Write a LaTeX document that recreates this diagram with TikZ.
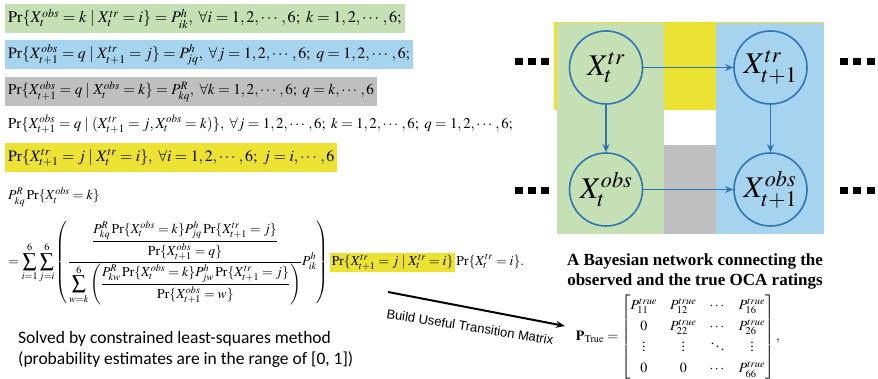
\documentclass[tikz,border=0pt]{standalone}
\usepackage{amsmath}
\usepackage{mathptmx}
\usepackage[no-math]{fontspec}
\setmainfont{Liberation Serif}
\newfontfamily\carlitofont{Carlito}
\newfontfamily\arialfont{Liberation Sans}
\usetikzlibrary{arrows.meta}

\definecolor{bngreen}{RGB}{197,224,180}
\definecolor{bnblue}{RGB}{166,211,238}
\definecolor{bngray}{RGB}{191,191,191}
\definecolor{bnyellow}{RGB}{236,226,52}
\definecolor{nodeblue}{RGB}{46,117,182}

\tikzset{
  eqbox/.style={anchor=west, inner xsep=3pt, inner ysep=0pt, minimum height=29pt},
  rv/.style={circle, draw=nodeblue, line width=1.6pt, minimum size=73pt, inner sep=0pt,
    font=\fontsize{30}{30}\selectfont},
  edge/.style={draw=nodeblue, line width=1.4pt, -{Stealth[length=8pt,width=7pt]}},
  dotsq/.style={fill=black},
}

\begin{document}
\begin{tikzpicture}[x=1pt,y=-1pt]
\useasboundingbox[fill=white] (0,0) rectangle (878,379);

% --- conditional probabilities ---
\node[eqbox, fill=bngreen, font=\fontsize{16.2}{19}\selectfont] (e1) at (5,18.5)
  {$\Pr\{X_t^{obs}=k\mid X_t^{tr}=i\}=P_{ik}^{h},\ \forall i=1,2,\cdots,6;\ k=1,2,\cdots,6;$};
\node[eqbox, fill=bnblue, font=\fontsize{15.8}{18}\selectfont] (e2) at (5,55)
  {$\Pr\{X_{t+1}^{obs}=q\mid X_{t+1}^{tr}=j\}=P_{jq}^{h},\ \forall j=1,2,\cdots,6;\ q=1,2,\cdots,6;$};
\node[eqbox, fill=bngray, font=\fontsize{15.1}{18}\selectfont] (e3) at (5,91.5)
  {$\Pr\{X_{t+1}^{obs}=q\mid X_t^{obs}=k\}=P_{kq}^{R},\ \forall k=1,2,\cdots,6;\ q=k,\cdots,6$};
\node[eqbox, font=\fontsize{14.9}{18}\selectfont] (e4) at (5,124.5)
  {$\Pr\{X_{t+1}^{obs}=q\mid (X_{t+1}^{tr}=j,X_t^{obs}=k)\},\ \forall j=1,2,\cdots,6;\ k=1,2,\cdots,6;\ q=1,2,\cdots,6;$};
\node[eqbox, fill=bnyellow, font=\fontsize{15.8}{18}\selectfont] (e5) at (5,158)
  {$\Pr\{X_{t+1}^{tr}=j\mid X_t^{tr}=i\},\ \forall i=1,2,\cdots,6;\ j=i,\cdots,6$};

% --- the estimation formula ---
\node[anchor=west, inner sep=0pt, font=\fontsize{13.7}{16}\selectfont] (lhs) at (8,197)
  {$P_{kq}^{R}\Pr\{X_t^{obs}=k\}$};
\node[anchor=west, inner sep=0pt, font=\fontsize{13.7}{16}\selectfont] (rhs) at (8,263)
  {$\displaystyle =\sum_{i=1}^{6}\sum_{j=i}^{6}\left(\frac{\dfrac{P_{kq}^{R}\Pr\{X_t^{obs}=k\}P_{jq}^{h}\Pr\{X_{t+1}^{tr}=j\}}{\Pr\{X_{t+1}^{obs}=q\}}}{\displaystyle\sum_{w=k}^{6}\left(\dfrac{P_{kw}^{R}\Pr\{X_t^{obs}=k\}P_{jw}^{h}\Pr\{X_{t+1}^{tr}=j\}}{\Pr\{X_{t+1}^{obs}=w\}}\right)}P_{ik}^{h}\right)\setlength{\fboxsep}{1.5pt}\colorbox{bnyellow}{$\Pr\{X_{t+1}^{tr}=j\mid X_t^{tr}=i\}$}\Pr\{X_t^{tr}=i\}.$};

% --- solver note ---
\node[anchor=north west, inner sep=0pt, align=left, font=\carlitofont\fontsize{17.5}{21}\selectfont] (note) at (18,331)
  {Solved by constrained least-squares method\\(probability estimates are in the range of [0, 1])};

% --- Bayesian network ---
\fill[bnyellow] (554,22) rectangle (824,110);
\fill[bngreen] (556.5,23) rectangle (664,234);
\fill[bnblue] (716,23) rectangle (824,234);
\fill[bngray] (664,145) rectangle (716,234);

\node[rv] (xt) at (606,67.5) {$X_t^{tr}$};
\node[rv] (xt1) at (770.5,67.5) {$X_{t+1}^{tr}$};
\node[rv] (ot) at (606,189.5) {$X_t^{obs}$};
\node[rv] (ot1) at (770.5,189.5) {$X_{t+1}^{obs}$};

\path[edge] (xt) -- (xt1);
\path[edge] (ot) -- (ot1);
\path[edge] (xt) -- (ot);
\path[edge] (xt1) -- (ot1);

\foreach \x in {515,528,541,840,853,867}{
  \fill[dotsq] (\x,58.5) rectangle ++(8,7);
  \fill[dotsq] (\x,187) rectangle ++(8,7);
}

\node[align=center, inner sep=0pt, font=\bfseries\fontsize{17}{20}\selectfont] (cap) at (695,271)
  {A Bayesian network connecting the\\observed and the true OCA ratings};

% --- transition matrix ---
\coordinate (arrS) at (388,292);
\coordinate (arrE) at (565,326);
\draw[line width=2pt, -{Stealth[length=9pt,width=7pt]}] (arrS) -- (arrE);
\node[rotate=-9, inner sep=0pt, font=\arialfont\fontsize{13}{15}\selectfont] (lbl) at (470,327)
  {Build Useful Transition Matrix};

\node[inner sep=0pt, font=\fontsize{14}{17}\selectfont] (mat) at (678,337)
  {$\mathbf{P}_{\mathrm{True}}=\renewcommand{\arraystretch}{1.22}\setlength{\arraycolsep}{6.5pt}\begin{bmatrix}
    P_{11}^{true} & P_{12}^{true} & \cdots & P_{16}^{true}\\
    0 & P_{22}^{true} & \cdots & P_{26}^{true}\\
    \vdots & \vdots & \ddots & \vdots\\
    0 & 0 & \cdots & P_{66}^{true}
  \end{bmatrix},$};
\end{tikzpicture}
\end{document}
